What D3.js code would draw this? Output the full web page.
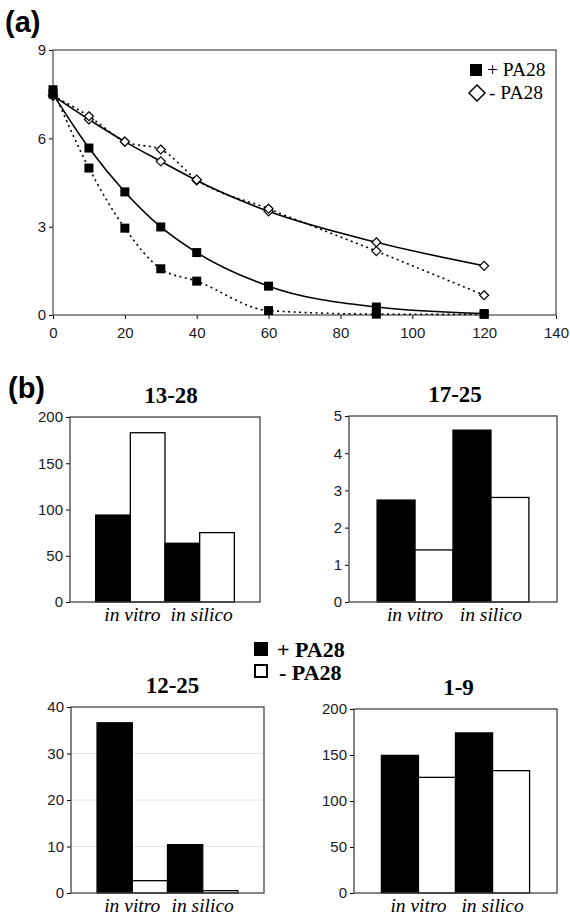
<!DOCTYPE html>
<html lang="en">
<head>
  <meta charset="UTF-8">
  <title>PA28 degradation chart</title>
  <script src="https://d3js.org/d3.v7.min.js"></script>
  <style>
    body {
      margin: 0;
      background: #fff;
    }
    svg {
      display: block;
      background: #fff;
    }
  </style>
</head>
<body>
<script>
  // ---- data (panel a) ----
  const timePoints = [0, 10, 20, 30, 40, 60, 90, 120];
  const plusFit = [7.5, 5.67, 4.18, 2.99, 2.12, 0.98, 0.27, 0.05];
  const plusExp = [7.65, 4.99, 2.95, 1.57, 1.15, 0.15, 0.03, 0.02];
  const minusFit = [7.45, 6.64, 5.89, 5.22, 4.57, 3.52, 2.47, 1.67];
  const minusExp = [7.45, 6.75, 5.89, 5.62, 4.6, 3.61, 2.17, 0.67];
  const xTicksA = [0, 20, 40, 60, 80, 100, 120, 140];
  const yTicksA = [0, 3, 6, 9];

  // ---- data (panel b) ----
  const categories = ["in vitro", "in silico"];
  const seriesNames = ["+ PA28", "- PA28"];
  const plus1328 = [94, 63.5], minus1328 = [183, 75];
  const plus1725 = [2.74, 4.62], minus1725 = [1.4, 2.81];
  const plus1225 = [36.6, 10.4], minus1225 = [2.65, 0.5];
  const plus19 = [149.6, 174], minus19 = [125.7, 133];
  const ticks200 = [0, 50, 100, 150, 200];
  const ticks5 = [0, 1, 2, 3, 4, 5];
  const ticks40 = [0, 10, 20, 30, 40];

  const svg = d3.select("body").append("svg")
    .attr("width", 570)
    .attr("height", 917);

  const sans = "Liberation Sans, Arial, sans-serif";
  const serif = "Liberation Serif, Times New Roman, serif";

  // ===== panel (a) =====
  svg.append("text")
    .attr("x", 5).attr("y", 32)
    .attr("font-family", sans).attr("font-weight", "bold")
    .attr("font-size", 29)
    .text("(a)");

  const ax = d3.scaleLinear().domain([0, 140]).range([53, 556]);
  const ay = d3.scaleLinear().domain([0, 9]).range([315, 50]);

  const gA = svg.append("g");

  gA.append("g")
    .attr("transform", "translate(0,315)")
    .call(d3.axisBottom(ax).tickValues(xTicksA).tickSize(4).tickSizeOuter(0))
    .call(g => g.select(".domain").remove())
    .call(g => g.selectAll("text").attr("font-family", sans).attr("font-size", 15).attr("fill", "#1a1a1a").attr("dy", "1.05em"));

  gA.append("g")
    .attr("transform", "translate(53,0)")
    .call(d3.axisLeft(ay).tickValues(yTicksA).tickSize(4).tickSizeOuter(0))
    .call(g => g.select(".domain").remove())
    .call(g => g.selectAll("text").attr("font-family", sans).attr("font-size", 15).attr("fill", "#1a1a1a").attr("x", -7));

  gA.append("rect")
    .attr("x", ax(0)).attr("y", ay(9))
    .attr("width", ax(140) - ax(0)).attr("height", ay(0) - ay(9))
    .attr("fill", "none").attr("stroke", "#555").attr("stroke-width", 1.3);

  const lineA = d3.line()
    .x((d, i) => ax(timePoints[i]))
    .y(d => ay(d))
    .curve(d3.curveMonotoneX);

  // solid = fitted, dotted = experiment
  [[minusFit, null], [minusExp, "2,3.5"], [plusFit, null], [plusExp, "2,3.5"]].forEach(([vals, dash]) => {
    gA.append("path")
      .attr("d", lineA(vals))
      .attr("fill", "none")
      .attr("stroke", "#000")
      .attr("stroke-width", 1.6)
      .attr("stroke-dasharray", dash);
  });

  // diamonds
  [minusFit, minusExp].forEach(vals => {
    gA.selectAll(null).data(vals).join("path")
      .attr("d", (d, i) => {
        const x = ax(timePoints[i]), y = ay(d);
        return `M${x},${y - 4.5}L${x + 4.5},${y}L${x},${y + 4.5}L${x - 4.5},${y}Z`;
      })
      .attr("fill", "#fff").attr("stroke", "#000").attr("stroke-width", 1.2);
  });

  // squares
  [plusFit, plusExp].forEach(vals => {
    gA.selectAll(null).data(vals).join("rect")
      .attr("x", (d, i) => ax(timePoints[i]) - 4.5)
      .attr("y", d => ay(d) - 4.5)
      .attr("width", 9).attr("height", 9)
      .attr("fill", "#000");
  });

  // legend (a)
  const legA = gA.append("g").attr("font-family", serif).attr("font-size", 19.5);
  legA.append("rect").attr("x", 470).attr("y", 64).attr("width", 12).attr("height", 12).attr("fill", "#000");
  legA.append("text").attr("x", 487).attr("y", 76).text(seriesNames[0]);
  legA.append("path").attr("d", "M477,85L485,93L477,101L469,93Z")
    .attr("fill", "#fff").attr("stroke", "#000").attr("stroke-width", 1.5);
  legA.append("text").attr("x", 489).attr("y", 99).text(seriesNames[1]);

  // ===== panel (b) =====
  svg.append("text")
    .attr("x", 8).attr("y", 398)
    .attr("font-family", sans).attr("font-weight", "bold")
    .attr("font-size", 29)
    .text("(b)");

  function barChart(opt) {
    const g = svg.append("g");
    const x = d3.scaleBand().domain(categories)
      .range([opt.left, opt.right]).paddingInner(0).paddingOuter(0.37);
    const xs = d3.scaleBand().domain(seriesNames).range([0, x.bandwidth()]);
    const y = d3.scaleLinear().domain([0, opt.max]).range([opt.bottom, opt.top]);

    if (opt.grid) {
      g.selectAll(null).data(opt.ticks.slice(1, -1)).join("line")
        .attr("x1", opt.left).attr("x2", opt.right)
        .attr("y1", d => y(d)).attr("y2", d => y(d))
        .attr("stroke", "#e2e2e2").attr("stroke-width", 1);
    }

    g.append("g")
      .attr("transform", `translate(${opt.left},0)`)
      .call(d3.axisLeft(y).tickValues(opt.ticks).tickFormat(d3.format("d")).tickSize(4).tickSizeOuter(0))
      .call(a => a.select(".domain").remove())
      .call(a => a.selectAll("text").attr("font-family", sans).attr("font-size", 15).attr("fill", "#1a1a1a").attr("x", -7));

    const rows = categories.map((c, i) => ({ c, vals: [opt.plus[i], opt.minus[i]] }));
    g.selectAll(null).data(rows).join("g")
      .attr("transform", d => `translate(${x(d.c)},0)`)
      .selectAll("rect")
      .data(d => d.vals.map((v, j) => ({ s: seriesNames[j], v })))
      .join("rect")
      .attr("x", d => xs(d.s))
      .attr("y", d => y(d.v))
      .attr("width", xs.bandwidth())
      .attr("height", d => opt.bottom - y(d.v))
      .attr("fill", d => d.s === seriesNames[0] ? "#000" : "#fff")
      .attr("stroke", "#000").attr("stroke-width", 1.3);

    g.append("rect")
      .attr("x", opt.left).attr("y", opt.top)
      .attr("width", opt.right - opt.left).attr("height", opt.bottom - opt.top)
      .attr("fill", "none").attr("stroke", "#444").attr("stroke-width", 1.3);

    g.selectAll(null).data(categories).join("text")
      .attr("x", d => x(d) + x.bandwidth() / 2 + opt.labelDx)
      .attr("y", opt.bottom + 19)
      .attr("text-anchor", "middle")
      .attr("font-family", serif).attr("font-style", "italic").attr("font-size", 19.5)
      .text(d => d);

    g.append("text")
      .attr("x", (opt.left + opt.right) / 2 + opt.titleDx)
      .attr("y", opt.top - 14)
      .attr("text-anchor", "middle")
      .attr("font-family", serif).attr("font-weight", "bold").attr("font-size", 23)
      .text(opt.title);
  }

  barChart({ title: "13-28", left: 70, right: 260, top: 417, bottom: 602, max: 200, ticks: ticks200, plus: plus1328, minus: minus1328, titleDx: 6, labelDx: 2 });
  barChart({ title: "17-25", left: 349, right: 557, top: 416, bottom: 602, max: 5, ticks: ticks5, plus: plus1725, minus: minus1725, titleDx: 2, labelDx: 0 });
  barChart({ title: "12-25", left: 71, right: 264, top: 707, bottom: 893, max: 40, ticks: ticks40, plus: plus1225, minus: minus1225, grid: true, titleDx: 5, labelDx: 0 });
  barChart({ title: "1-9", left: 354, right: 557, top: 709, bottom: 893, max: 200, ticks: ticks200, plus: plus19, minus: minus19, titleDx: 3, labelDx: 0 });

  // legend (b)
  const legB = svg.append("g").attr("font-family", serif).attr("font-weight", "bold").attr("font-size", 22);
  legB.append("rect").attr("x", 254).attr("y", 642).attr("width", 14).attr("height", 14).attr("fill", "#000");
  legB.append("text").attr("x", 277).attr("y", 657).text(seriesNames[0]);
  legB.append("rect").attr("x", 255).attr("y", 665).attr("width", 12).attr("height", 12)
    .attr("fill", "#fff").attr("stroke", "#000").attr("stroke-width", 2);
  legB.append("text").attr("x", 279).attr("y", 680).text(seriesNames[1]);
</script>
</body>
</html>
